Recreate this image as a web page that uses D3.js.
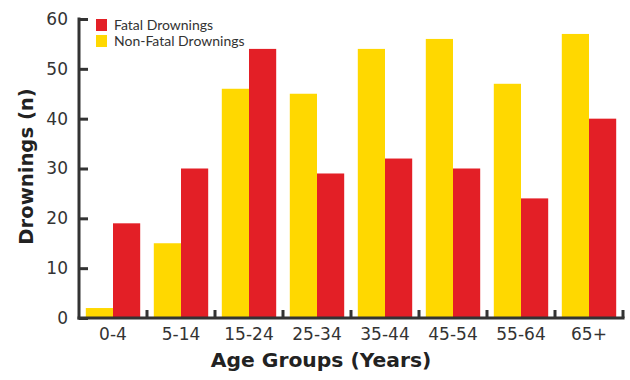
<!DOCTYPE html>
<html><head><meta charset="utf-8">
<script src="https://cdn.jsdelivr.net/npm/d3@7"></script>
<style>body{margin:0;background:#fff}svg{display:block}</style>
</head><body>
<svg id="c" width="630" height="380"></svg>
<script>
const categories = ["0-4","5-14","15-24","25-34","35-44","45-54","55-64","65+"];
const nonFatal = [2,15,46,45,54,56,47,57];
const fatal = [19,30,54,29,32,30,24,40];
const yTicks = [0,10,20,30,40,50,60];
const seriesNames = ["Fatal Drownings","Non-Fatal Drownings"];
const colors = {fatal:"#e31f26", nonFatal:"#ffd800"};

const svg = d3.select("#c");
const font = "'DejaVu Sans', sans-serif";
const legFont = "Lato, 'Noto Sans', sans-serif";
const axisColor = "#333";
const x0 = 79, x1 = 623, yTop = 19, yBot = 318;

const x = d3.scaleBand().domain(categories).range([x0,x1]).paddingInner(0.2).paddingOuter(0.1);
const sub = d3.scaleBand().domain(["nonFatal","fatal"]).range([0,x.bandwidth()]);
const y = d3.scaleLinear().domain([0,60]).range([yBot,yTop]);

const data = categories.map((c,i)=>({c, nonFatal:nonFatal[i], fatal:fatal[i]}));
const g = svg.append("g");
data.forEach(d=>{
  ["nonFatal","fatal"].forEach(k=>{
    g.append("rect")
      .attr("x", x(d.c)+sub(k))
      .attr("width", sub.bandwidth())
      .attr("y", y(d[k]))
      .attr("height", yBot - y(d[k]))
      .attr("fill", colors[k]);
  });
});

// Y axis
const ya = svg.append("g").attr("transform",`translate(${x0},0)`)
  .call(d3.axisRight(y).tickValues(yTicks).tickSize(9).tickFormat(d3.format("d")));
ya.select(".domain").remove();
ya.selectAll(".tick line").attr("stroke",axisColor).attr("stroke-width",3);
ya.selectAll(".tick text").attr("x",-11).attr("text-anchor","end")
  .attr("fill","#333").attr("font-family",font).attr("font-size",17);
svg.append("line").attr("x1",x0).attr("x2",x0).attr("y1",yTop-1.5).attr("y2",yBot+1.5)
  .attr("stroke",axisColor).attr("stroke-width",3);

// X axis
const boundaries = categories.slice(1).map(c=>x(c) - x.step()*x.paddingInner()/2).concat([x1]);
svg.append("line").attr("x1",x0-1.5).attr("x2",x1+1.5).attr("y1",yBot).attr("y2",yBot)
  .attr("stroke",axisColor).attr("stroke-width",3);
svg.selectAll(".xt").data(boundaries).enter().append("line")
  .attr("x1",d=>d).attr("x2",d=>d).attr("y1",yBot).attr("y2",yBot-8)
  .attr("stroke",axisColor).attr("stroke-width",3);
svg.selectAll(".xl").data(categories).enter().append("text")
  .attr("x",d=>x(d)+x.bandwidth()/2).attr("y",340)
  .attr("text-anchor","middle").attr("fill","#333")
  .attr("font-family",font).attr("font-size",17).text(d=>d);

// Axis titles
svg.append("text").attr("x",321).attr("y",367).attr("text-anchor","middle")
  .attr("font-family",font).attr("font-weight","bold").attr("font-size",20.3)
  .attr("fill","#222").text("Age Groups (Years)");
svg.append("text").attr("transform","translate(33,166.5) rotate(-90)").attr("text-anchor","middle")
  .attr("font-family",font).attr("font-weight","bold").attr("font-size",19.6)
  .attr("fill","#222").text("Drownings (n)");

// Legend
const leg = svg.append("g");
[["fatal",seriesNames[0],19],["nonFatal",seriesNames[1],35]].forEach(([k,name,yy])=>{
  leg.append("rect").attr("x",96).attr("y",yy).attr("width",11).attr("height",12).attr("fill",colors[k]);
  leg.append("text").attr("x",114).attr("y",yy+11).attr("font-family",legFont).attr("font-size",14)
    .attr("fill","#333").text(name);
});
</script>
</body></html>
